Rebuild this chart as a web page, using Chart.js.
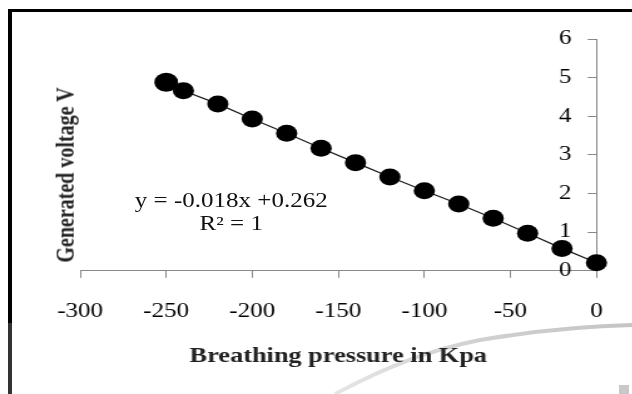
<!DOCTYPE html>
<html><head><meta charset="utf-8">
<script src="https://cdn.jsdelivr.net/npm/chart.js@4"></script>
<style>
html,body{margin:0;padding:0;background:#fff;width:632px;height:394px;overflow:hidden;position:relative;}
#deco{position:absolute;left:0;top:0;}
#wrap{position:absolute;left:0;top:0;width:505.6px;height:394px;transform:scaleX(1.25);transform-origin:0 0;}
#ytitle{position:absolute;left:51.6px;top:175px;transform:translate(-50%,-50%) rotate(-90deg);white-space:nowrap;font:bold 20px "Liberation Serif",serif;color:#222;}
#eq{position:absolute;left:185px;top:188.5px;transform:translateX(-50%);white-space:nowrap;text-align:center;font:20px "Liberation Serif",serif;line-height:23px;color:#111;}
.b{position:absolute;}
</style></head>
<body>
<svg id="deco" width="632" height="394">
  <defs><linearGradient id="g" x1="330" y1="0" x2="632" y2="0" gradientUnits="userSpaceOnUse">
    <stop offset="0" stop-color="#e6e6e6"/><stop offset="0.5" stop-color="#d0d0d0"/><stop offset="1" stop-color="#c4c4c4"/></linearGradient></defs>
  <path d="M 335 394 C 390 365 430 350 480 340 C 540 330 590 326 632 325" fill="none" stroke="url(#g)" stroke-width="4"/>
  <rect x="619" y="385" width="10" height="9" fill="#c8c8c8"/>
</svg>
<div class="b" style="left:8px;top:9px;width:624px;height:3px;background:#000"></div>
<div class="b" style="left:8px;top:9px;width:4px;height:314px;background:#000"></div>
<div class="b" style="left:8px;top:323px;width:4px;height:71px;background:#333"></div>
<div id="wrap">
  <canvas id="c"></canvas>
  <div id="ytitle"></div>
  <div id="eq"></div>
</div>
<script>
const pressure = [-250, -240, -220, -200, -180, -160, -140, -120, -100, -80, -60, -40, -20, 0];
const voltage  = [4.88, 4.66, 4.32, 3.93, 3.56, 3.17, 2.80, 2.43, 2.07, 1.73, 1.36, 0.97, 0.58, 0.21];
const xTickValues = [-300, -250, -200, -150, -100, -50, 0];
const yTickValues = [0, 1, 2, 3, 4, 5, 6];
const xTitle = 'Breathing pressure in Kpa';
const yTitle = 'Generated voltage V';
const eqLines = ['y = -0.018x +0.262', 'R\u00B2 = 1'];

document.getElementById('ytitle').textContent = yTitle;
const eq = document.getElementById('eq');
eqLines.forEach((t, i) => { if (i) eq.appendChild(document.createElement('br')); eq.appendChild(document.createTextNode(t)); });

const F = '"Liberation Serif", "Times New Roman", serif';
new Chart(document.getElementById('c'), {
  type: 'scatter',
  data: { datasets: [{
    data: pressure.map((x, i) => ({ x: x, y: voltage[i] })),
    showLine: true, borderColor: '#1a1a1a', borderWidth: 1.2,
    pointBackgroundColor: '#000', pointBorderColor: '#000', pointBorderWidth: 0,
    pointRadius: c => c.dataIndex === 0 ? 9.5 : 8.5,
    clip: false
  }]},
  options: {
    responsive: true, maintainAspectRatio: false, animation: false,
    layout: { padding: { left: 64, top: 39, right: 29.4, bottom: 25 } },
    plugins: { legend: { display: false }, tooltip: { enabled: false } },
    scales: {
      x: {
        type: 'linear', position: 'bottom', min: -300, max: 0,
        afterBuildTicks: s => { s.ticks = xTickValues.map(v => ({ value: v })); },
        grid: { drawOnChartArea: false, tickLength: 7, color: '#888' },
        border: { color: '#888', width: 1 },
        ticks: { padding: 22, color: '#000', font: { family: F, size: 20 }, maxRotation: 0, autoSkip: false },
        title: { display: true, text: xTitle, color: '#222', font: { family: F, size: 21, weight: 'bold' }, padding: { top: -2, bottom: 0 } }
      },
      y: {
        type: 'linear', position: 'right', min: 0, max: 6,
        afterBuildTicks: s => { s.ticks = yTickValues.map(v => ({ value: v })); },
        grid: { drawOnChartArea: false, tickLength: -7, color: '#888' },
        border: { color: '#888', width: 1 },
        ticks: { mirror: true, padding: -20, color: '#000', font: { family: F, size: 20 }, autoSkip: false }
      }
    }
  }
});
</script>
</body></html>
